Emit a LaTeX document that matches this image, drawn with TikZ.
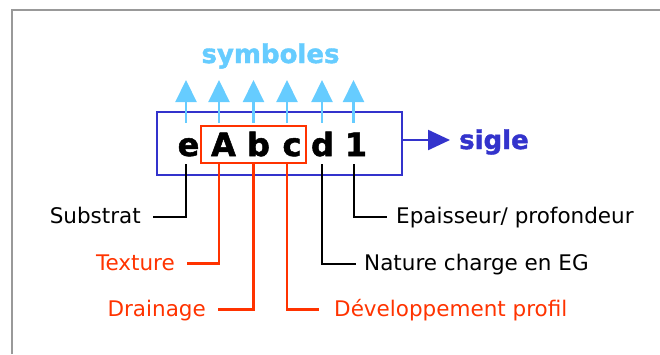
\documentclass[tikz,border=0pt]{standalone}
\usepackage{fontspec}
\setmainfont{DejaVu Sans}
\newfontfamily\heavyfont{DejaVu Sans Bold}[FakeBold=1.6]
\usetikzlibrary{arrows.meta}
\definecolor{redc}{HTML}{FF3300}
\definecolor{bluec}{HTML}{3333CC}
\definecolor{skyc}{HTML}{66CCFF}
\definecolor{framec}{HTML}{999999}
\begin{document}
\begin{tikzpicture}[x=1pt,y=-1pt,
  letter/.style={font=\fontsize{32}{36}\selectfont\heavyfont, inner sep=0pt, text height=33pt, text depth=8pt, anchor=base},
  lab/.style={font=\fontsize{21.5}{24}\selectfont, inner sep=0pt, text height=13pt, text depth=0pt},
  blk/.style={line width=2pt, black},
  redl/.style={line width=2.2pt, redc},
  upar/.style={line width=2.2pt, skyc, -{Triangle[length=22pt,width=21pt]}},
  bigtitle/.style={font=\fontsize{26}{30}\selectfont\heavyfont, inner sep=0pt},
  ]
\useasboundingbox (0,0) rectangle (660,354);
% frame
\draw[framec, line width=2.4pt] (12,354) -- (12,10) -- (660,10);
% boxes
\node[draw=bluec, line width=2.6pt, minimum width=245pt, minimum height=63pt, inner sep=0pt] (sigbox) at (279.5,143.5) {};
\node[draw=redc, line width=2.6pt, minimum width=105pt, minimum height=37pt, inner sep=0pt] (rbox) at (253.5,144.5) {};
% letters
\node[letter] (e) at (188.5,156) {e};
\node[letter] (A) at (223.5,156) {A};
\node[letter] (b) at (258.5,156) {b};
\node[letter] (c) at (292,156) {c};
\node[letter] (d) at (322.5,156) {d};
\node[letter] (one) at (356,156) {1};
% arrow tips (free ends)
\coordinate (se) at (186,80);
\coordinate (sA) at (219,80);
\coordinate (sb) at (253.5,80);
\coordinate (sc) at (287,80);
\coordinate (sd) at (322,80);
\coordinate (s1) at (353.5,80);
\foreach \l/\s in {e/se, A/sA, b/sb, c/sc, d/sd, one/s1}
  \draw[upar] (\l.north -| \s) -- (\s);
% titles
\node[bigtitle, text=skyc, anchor=base] (sym) at (270.5,63) {symboles};
\node[bigtitle, text=bluec, anchor=base west, text height=18pt, text depth=0pt] (sig) at (459,149) {sigle};
\draw[bluec, line width=2.4pt, -{Triangle[length=22pt,width=20pt]}, shorten >=9pt] (sigbox.east |- sig.west) -- (sig.west);
% labels
\node[lab, anchor=base east] (sub) at (141,223) {Substrat};
\node[lab, anchor=base east, text=redc] (tex) at (175,270) {Texture};
\node[lab, anchor=base east, text=redc] (dra) at (206,316) {Drainage};
\node[lab, anchor=base west, text=redc] (dev) at (334,316) {Développement profil};
\node[lab, anchor=base west] (nat) at (364,270) {Nature charge en EG};
\node[lab, anchor=base west] (epa) at (396,223) {Epaisseur/ profondeur};
% connectors
\draw[blk, shorten >=12pt] (e.south -| se) |- (sub.east);
\draw[redl, shorten >=12pt] (rbox.south -| sA) |- (tex.east);
\draw[redl, shorten >=12pt] (rbox.south -| sb) |- (dra.east);
\draw[redl, shorten >=15pt] (rbox.south -| sc) |- (dev.west);
\draw[blk, shorten >=8pt] (d.south -| sd) |- (nat.west);
\draw[blk, shorten >=9pt] (one.south -| s1) |- (epa.west);
\end{tikzpicture}
\end{document}
